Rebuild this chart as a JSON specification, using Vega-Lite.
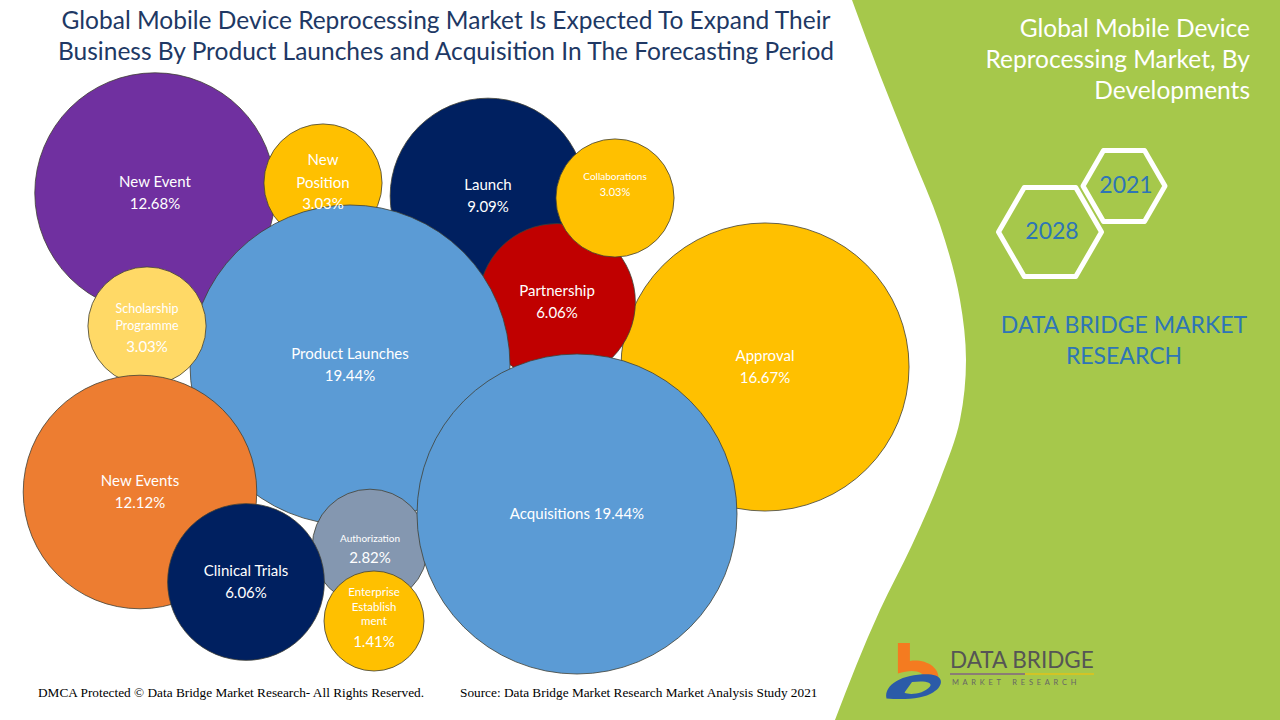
{
  "$schema": "https://vega.github.io/schema/vega-lite/v6.json",
  "width": 1280,
  "height": 720,
  "autosize": {"type": "fit", "contains": "padding"},
  "padding": 0,
  "background": "white",
  "config": {"view": {"stroke": null}, "text": {"font": "Lato"}},
  "datasets": {
    "edge": [
      {"x": 852, "y": 0}, {"x": 880, "y": 75}, {"x": 910, "y": 150}, {"x": 940, "y": 225},
      {"x": 960, "y": 300}, {"x": 966, "y": 360}, {"x": 960, "y": 420}, {"x": 940, "y": 480},
      {"x": 912, "y": 545}, {"x": 880, "y": 610}, {"x": 835, "y": 720}
    ],
    "bubbles": [
      {"name": "New Event", "value": 12.68, "x": 155, "y": 193},
      {"name": "New\nPosition", "value": 3.03, "x": 323, "y": 183},
      {"name": "Launch", "value": 9.09, "x": 488, "y": 196},
      {"name": "Approval", "value": 16.67, "x": 765, "y": 367},
      {"name": "Partnership", "value": 6.06, "x": 557, "y": 302},
      {"name": "Collaborations", "value": 3.03, "x": 615, "y": 198},
      {"name": "Product Launches", "value": 19.44, "x": 350, "y": 365},
      {"name": "Scholarship\nProgramme", "value": 3.03, "x": 147, "y": 326},
      {"name": "New Events", "value": 12.12, "x": 140, "y": 492},
      {"name": "Authorization", "value": 2.82, "x": 370, "y": 547},
      {"name": "Clinical Trials", "value": 6.06, "x": 246, "y": 582},
      {"name": "Enterprise\nEstablish\nment", "value": 1.41, "x": 374, "y": 621},
      {"name": "Acquisitions", "value": 19.44, "x": 577, "y": 514}
    ],
    "hexagons": [
      {"year": "2021", "x": 1124, "y": 186},
      {"year": "2028", "x": 1050, "y": 232}
    ],
    "texts": [
      {"role": "title", "x": 446, "y": 22, "text": "Global Mobile Device Reprocessing Market Is Expected To Expand Their"},
      {"role": "title", "x": 446, "y": 53, "text": "Business By Product Launches and Acquisition In The Forecasting Period"},
      {"role": "side", "x": 1250, "y": 30, "text": "Global Mobile Device"},
      {"role": "side", "x": 1250, "y": 61, "text": "Reprocessing Market, By"},
      {"role": "side", "x": 1250, "y": 92, "text": "Developments"},
      {"role": "brand", "x": 1124, "y": 326, "text": "DATA BRIDGE MARKET"},
      {"role": "brand", "x": 1124, "y": 357, "text": "RESEARCH"},
      {"role": "brand", "x": 1126, "y": 186, "text": "2021"},
      {"role": "brand", "x": 1052, "y": 232, "text": "2028"},
      {"role": "foot", "x": 38, "y": 693, "text": "DMCA Protected © Data Bridge  Market Research- All Rights Reserved."},
      {"role": "foot", "x": 460, "y": 693, "text": "Source: Data Bridge Market Research Market Analysis Study 2021"},
      {"role": "logo", "x": 950, "y": 661, "text": "DATA BRIDGE"},
      {"role": "logosub", "x": 952, "y": 683, "text": "M\u00a0\u00a0A\u00a0\u00a0R\u00a0\u00a0K\u00a0\u00a0E\u00a0\u00a0T\u00a0\u00a0\u00a0\u00a0\u00a0\u00a0R\u00a0\u00a0E\u00a0\u00a0S\u00a0\u00a0E\u00a0\u00a0A\u00a0\u00a0R\u00a0\u00a0C\u00a0\u00a0H"}
    ],
    "logoline": [
      {"part": "a", "x": 950, "x2": 1025, "y": 674},
      {"part": "b", "x": 1025, "x2": 1094, "y": 674}
    ],
    "logo": [{"x": 915, "y": 670}]
  },
  "encoding": {
    "x": {"field": "x", "type": "quantitative", "scale": {"domain": [0, 1280], "nice": false, "zero": false}, "axis": null},
    "y": {"field": "y", "type": "quantitative", "scale": {"domain": [0, 720], "nice": false, "zero": false, "reverse": true}, "axis": null}
  },
  "layer": [
    {
      "data": {"name": "edge"},
      "mark": {"type": "area", "orient": "horizontal", "interpolate": "monotone", "color": "#a6c84b"},
      "encoding": {
        "x": {"field": "x", "type": "quantitative", "stack": null, "scale": {"domain": [0, 1280], "nice": false, "zero": false}, "axis": null},
        "x2": {"datum": 1280}
      }
    },
    {
      "data": {"name": "bubbles"},
      "mark": {"type": "point", "shape": "circle", "filled": true, "opacity": 1, "stroke": "#404035", "strokeWidth": 0.8},
      "encoding": {
        "size": {"field": "value", "type": "quantitative", "scale": {"type": "pow", "exponent": 1.5, "zero": false, "domain": [1.41, 19.44], "range": [10000, 102400]}, "legend": null},
        "color": {
          "field": "name", "type": "nominal", "legend": null,
          "scale": {
            "domain": ["New Event", "New\nPosition", "Launch", "Approval", "Partnership", "Collaborations", "Product Launches", "Scholarship\nProgramme", "New Events", "Authorization", "Clinical Trials", "Enterprise\nEstablish\nment", "Acquisitions"],
            "range": ["#7030A0", "#FFC000", "#002060", "#FFC000", "#C00000", "#FFC000", "#5B9BD5", "#FFD966", "#ED7D31", "#8497B0", "#002060", "#FFC000", "#5B9BD5"]
          }
        }
      }
    },
    {
      "data": {"name": "bubbles"},
      "transform": [{"filter": "indexof(datum.name, '\\n') < 0 && datum.name !== 'Acquisitions' && datum.name !== 'Collaborations'"}],
      "mark": {"type": "text", "color": "white", "baseline": "bottom", "dy": -3},
      "encoding": {
        "text": {"field": "name"},
        "size": {"condition": {"test": "datum.name === 'Authorization'", "value": 10}, "value": 15}
      }
    },
    {
      "data": {"name": "bubbles"},
      "transform": [{"filter": "datum.name === 'Collaborations'"}],
      "mark": {"type": "text", "color": "white", "baseline": "middle", "dy": -21, "fontSize": 10},
      "encoding": {"text": {"field": "name"}}
    },
    {
      "data": {"name": "bubbles"},
      "transform": [{"filter": "datum.name === 'New\\nPosition'"}],
      "mark": {"type": "text", "color": "white", "baseline": "top", "dy": -30, "fontSize": 15, "lineBreak": "\n", "lineHeight": 23},
      "encoding": {"text": {"field": "name"}}
    },
    {
      "data": {"name": "bubbles"},
      "transform": [{"filter": "datum.name === 'Scholarship\\nProgramme'"}],
      "mark": {"type": "text", "color": "white", "baseline": "top", "dy": -23, "fontSize": 12.5, "lineBreak": "\n", "lineHeight": 17},
      "encoding": {"text": {"field": "name"}}
    },
    {
      "data": {"name": "bubbles"},
      "transform": [{"filter": "datum.name === 'Enterprise\\nEstablish\\nment'"}],
      "mark": {"type": "text", "color": "white", "baseline": "top", "dy": -34, "fontSize": 11.5, "lineBreak": "\n", "lineHeight": 14.5},
      "encoding": {"text": {"field": "name"}}
    },
    {
      "data": {"name": "bubbles"},
      "transform": [
        {"filter": "indexof(datum.name, '\\n') < 0 && datum.name !== 'Acquisitions' && datum.name !== 'Collaborations'"},
        {"calculate": "format(datum.value, '.2f') + '%'", "as": "pct"}
      ],
      "mark": {"type": "text", "color": "white", "baseline": "top", "dy": 4, "fontSize": 15},
      "encoding": {"text": {"field": "pct"}}
    },
    {
      "data": {"name": "bubbles"},
      "transform": [
        {"filter": "datum.name === 'Collaborations'"},
        {"calculate": "format(datum.value, '.2f') + '%'", "as": "pct"}
      ],
      "mark": {"type": "text", "color": "white", "baseline": "middle", "dy": -5, "fontSize": 11},
      "encoding": {"text": {"field": "pct"}}
    },
    {
      "data": {"name": "bubbles"},
      "transform": [
        {"filter": "indexof(datum.name, '\\n') >= 0"},
        {"calculate": "format(datum.value, '.2f') + '%'", "as": "pct"}
      ],
      "mark": {"type": "text", "color": "white", "baseline": "top", "dy": 14, "fontSize": 15},
      "encoding": {"text": {"field": "pct"}}
    },
    {
      "data": {"name": "bubbles"},
      "transform": [
        {"filter": "datum.name === 'Acquisitions'"},
        {"calculate": "datum.name + ' ' + format(datum.value, '.2f') + '%'", "as": "lbl"}
      ],
      "mark": {"type": "text", "color": "white", "baseline": "middle", "fontSize": 15},
      "encoding": {"text": {"field": "lbl"}}
    },
    {
      "data": {"name": "hexagons"},
      "mark": {"type": "point", "filled": false, "shape": "M-1,0L-0.5,-0.866L0.5,-0.866L1,0L0.5,0.866L-0.5,0.866Z", "stroke": "white", "strokeWidth": 5, "strokeJoin": "round", "opacity": 1},
      "encoding": {
        "size": {"condition": {"test": "datum.year === '2028'", "value": 10609}, "value": 6724}
      }
    },
    {
      "data": {"name": "texts"},
      "transform": [{"filter": "datum.role === 'title'"}],
      "mark": {"type": "text", "color": "#203864", "fontSize": 24.5, "baseline": "middle", "align": "center"},
      "encoding": {"text": {"field": "text"}}
    },
    {
      "data": {"name": "texts"},
      "transform": [{"filter": "datum.role === 'side'"}],
      "mark": {"type": "text", "color": "white", "fontSize": 24.5, "baseline": "middle", "align": "right"},
      "encoding": {"text": {"field": "text"}}
    },
    {
      "data": {"name": "texts"},
      "transform": [{"filter": "datum.role === 'brand'"}],
      "mark": {"type": "text", "color": "#2E75B6", "fontSize": 23, "baseline": "middle", "align": "center"},
      "encoding": {"text": {"field": "text"}}
    },
    {
      "data": {"name": "texts"},
      "transform": [{"filter": "datum.role === 'foot'"}],
      "mark": {"type": "text", "color": "black", "font": "Liberation Serif", "fontSize": 13.3, "baseline": "middle", "align": "left"},
      "encoding": {"text": {"field": "text"}}
    },
    {
      "data": {"name": "texts"},
      "transform": [{"filter": "datum.role === 'logo'"}],
      "mark": {"type": "text", "color": "#555555", "fontSize": 22.5, "baseline": "middle", "align": "left"},
      "encoding": {"text": {"field": "text"}}
    },
    {
      "data": {"name": "texts"},
      "transform": [{"filter": "datum.role === 'logosub'"}],
      "mark": {"type": "text", "color": "#666666", "fontSize": 7.5, "baseline": "middle", "align": "left"},
      "encoding": {"text": {"field": "text"}}
    },
    {
      "data": {"name": "logoline"},
      "mark": {"type": "rule", "strokeWidth": 1.2},
      "encoding": {
        "x2": {"field": "x2"},
        "color": {"field": "part", "type": "nominal", "legend": null, "scale": {"domain": ["a", "b"], "range": ["#F4A340", "#5B7FB5"]}}
      }
    },
    {
      "data": {"name": "logo"},
      "mark": {"type": "point", "filled": true, "opacity": 1, "color": "#F47B20", "size": 3600, "shape": "M-0.57,-0.9L-0.17,-0.9L-0.17,-0.3C0.3,-0.38 0.85,-0.12 0.78,0.35L0.35,0.32C0.3,0.02 -0.1,-0.05 -0.57,0.12Z"}
    },
    {
      "data": {"name": "logo"},
      "mark": {"type": "point", "filled": true, "opacity": 1, "color": "#2B5BA8", "size": 3600, "shape": "M-0.95,0.95C-1.05,0.45 -0.35,0.12 0.45,0.14C0.95,0.16 1.0,0.5 0.6,0.75C0.3,0.95 -0.3,1.0 -0.95,0.95ZM-0.35,0.75C-0.2,0.85 0.3,0.8 0.5,0.55C0.6,0.4 0.3,0.35 -0.1,0.4Z"}
    }
  ]
}
